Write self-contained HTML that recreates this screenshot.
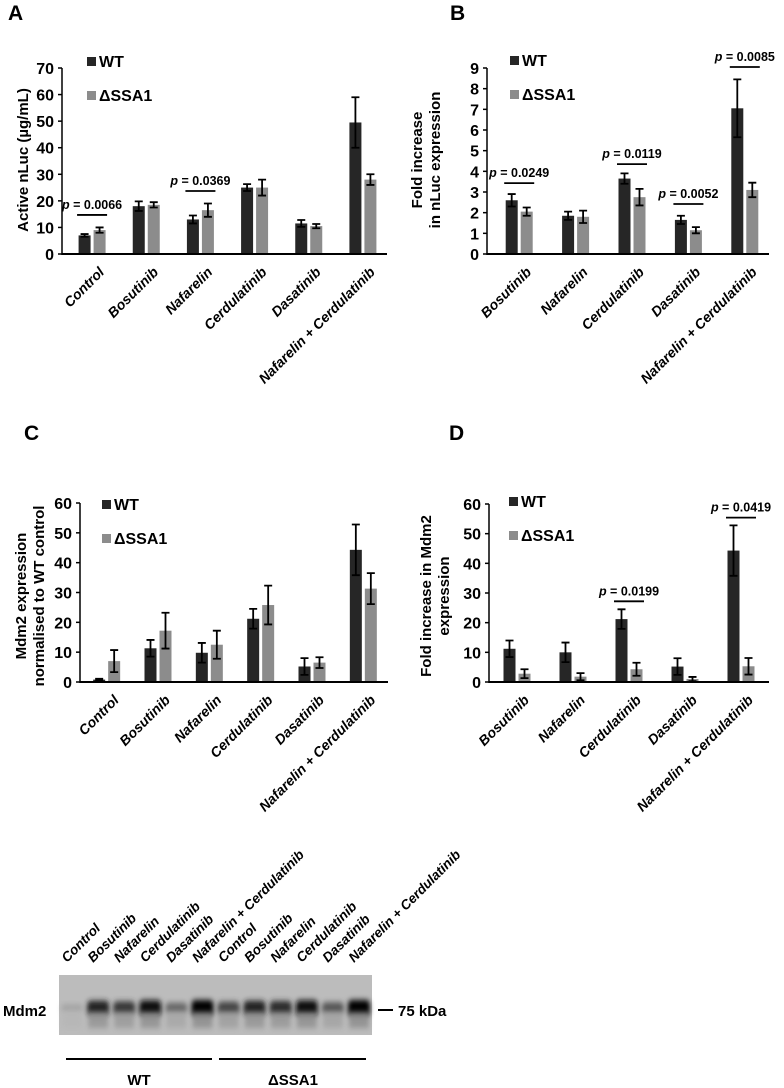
<!DOCTYPE html>
<html><head><meta charset="utf-8"><style>
html,body{margin:0;padding:0;background:#fff;}
svg{display:block;font-family:"Liberation Sans",Arial,sans-serif;}
</style></head><body>
<svg id="fig" width="784" height="1088" viewBox="0 0 784 1088">
<defs><filter id="blur" x="-50%" y="-50%" width="200%" height="200%"><feGaussianBlur stdDeviation="2.5 3"/></filter></defs>
<g id="charts"></g>
<g id="blot"></g>
</svg>
<script>
// ---- Panel A data ----
const catsA = ["Control","Bosutinib","Nafarelin","Cerdulatinib","Dasatinib","Nafarelin + Cerdulatinib"];
const wtA = [7, 18, 13, 25, 11.5, 49.5];
const wtErrA = [0.5, 1.8, 1.5, 1.3, 1.3, 9.5];
const ssaA = [9, 18.5, 16.5, 25, 10.5, 28];
const ssaErrA = [1, 1, 2.5, 3, 0.8, 2];
const ticksA = [0,10,20,30,40,50,60,70];
const pCatA = [0, 2];
const pValA = [14.7, 23.7];
const pTextA = ["0.0066","0.0369"];
// ---- Panel B data ----
const catsB = ["Bosutinib","Nafarelin","Cerdulatinib","Dasatinib","Nafarelin + Cerdulatinib"];
const wtB = [2.6, 1.85, 3.65, 1.65, 7.05];
const wtErrB = [0.3, 0.2, 0.25, 0.2, 1.4];
const ssaB = [2.05, 1.8, 2.75, 1.15, 3.1];
const ssaErrB = [0.2, 0.3, 0.4, 0.15, 0.35];
const ticksB = [0,1,2,3,4,5,6,7,8,9];
const pCatB = [0, 2, 3, 4];
const pValB = [3.43, 4.35, 2.42, 9.05];
const pTextB = ["0.0249","0.0119","0.0052","0.0085"];
// ---- Panel C data ----
const catsC = ["Control","Bosutinib","Nafarelin","Cerdulatinib","Dasatinib","Nafarelin + Cerdulatinib"];
const wtC = [0.8, 11.3, 9.8, 21.2, 5.2, 44.3];
const wtErrC = [0.3, 2.8, 3.3, 3.3, 2.8, 8.5];
const ssaC = [7, 17.2, 12.5, 25.8, 6.5, 31.3];
const ssaErrC = [3.7, 6, 4.7, 6.5, 1.8, 5.2];
const ticksC = [0,10,20,30,40,50,60];
const pCatC = [];
const pValC = [];
const pTextC = [];
// ---- Panel D data ----
const catsD = ["Bosutinib","Nafarelin","Cerdulatinib","Dasatinib","Nafarelin + Cerdulatinib"];
const wtD = [11.2, 10, 21.2, 5.2, 44.3];
const wtErrD = [2.8, 3.3, 3.3, 2.8, 8.5];
const ssaD = [2.8, 1.8, 4.3, 1, 5.3];
const ssaErrD = [1.5, 1.2, 2.2, 0.7, 2.8];
const ticksD = [0,10,20,30,40,50,60];
const pCatD = [2, 4];
const pValD = [27.2, 55.4];
const pTextD = ["0.0199","0.0419"];
// ---- Blot data ----
const laneLabels = ["Control","Bosutinib","Nafarelin","Cerdulatinib","Dasatinib","Nafarelin + Cerdulatinib","Control","Bosutinib","Nafarelin","Cerdulatinib","Dasatinib","Nafarelin + Cerdulatinib"];
const bandIntensity = [0.12, 0.85, 0.72, 0.95, 0.45, 1, 0.65, 0.85, 0.8, 0.95, 0.55, 1];

const NS = "http://www.w3.org/2000/svg";
function mk(tag, attrs, parent, text){
  const e = document.createElementNS(NS, tag);
  for (const k in attrs) e.setAttribute(k, attrs[k]);
  if (text !== undefined) e.textContent = text;
  parent.appendChild(e);
  return e;
}
const root = document.getElementById("charts");

function drawChart(o){
  const g = mk("g", {}, root);
  
  
  const ppu = o.pxTop / o.ticks[o.ticks.length-1];
  const y = v => o.y0 - v * ppu;
  const step = (o.x1 - o.x0) / o.cats.length;
  const cx = i => o.x0 + step * (i + 0.5) + o.shift;
  const L = mk("text", {x:o.letterX, y:o.letterY, "font-size":21, "font-weight":"bold"}, g, o.letter);
  
  
  o.ticks.forEach(t => {
    const tl = mk("text", {x:o.x0-8, y:y(t)+6, "font-size":16, "font-weight":"bold", "text-anchor":"end"}, g, String(t));
    
    
    mk("line", {x1:o.x0-4, x2:o.x0, y1:y(t), y2:y(t), stroke:"#000", "stroke-width":1.5}, g);
  });
  const ya = mk("line", {x1:o.x0, x2:o.x0, y1:o.y0+1, y2:y(o.ticks[o.ticks.length-1]), stroke:"#000", "stroke-width":1.5}, g);
  
  
  const tt = mk("text", {transform:`translate(${o.titleX},${o.titleY}) rotate(-90)`, "font-size":15, "font-weight":"bold", "text-anchor":"middle"}, g);
  
  
  o.title.forEach((line, i) => mk("tspan", {x:0, dy: i===0 ? 0 : 18}, tt, line));
  o.cats.forEach((c, i) => {
    [[o.wt, o.wtErr, "#262626", -7.5, "bar-wt"], [o.ssa, o.ssaErr, "#8c8c8c", 7.5, "bar-ssa1"]].forEach(s => {
      const v = s[0][i], e = s[1][i], bx = cx(i) + s[3];
      const r = mk("rect", {x:bx-6, y:y(v), width:12, height:o.y0-y(v), fill:s[2]}, g);
      
      
      const eb = mk("path", {d:`M${bx},${y(v+e)}V${y(v-e)}M${bx-4},${y(v+e)}H${bx+4}M${bx-4},${y(v-e)}H${bx+4}`, stroke:"#000", "stroke-width":1.8, fill:"none"}, g);
      
      
    });
    const lx = cx(i) + 6, ly = o.y0 + 12;
    const lab = mk("text", {transform:`translate(${lx},${ly}) rotate(-45)`, "font-size":14, "font-weight":"bold", "font-style":"italic", "text-anchor":"end", dy:"0.7em"}, g, c);
    
    
  });
  const xa = mk("line", {x1:o.x0, x2:o.x1, y1:o.y0, y2:o.y0, stroke:"#000", "stroke-width":2}, g);
  
  
  o.pCat.forEach((ci, k) => {
    const py = y(o.pVal[k]), c = cx(ci);
    const pl = mk("line", {x1:c-15, x2:c+15, y1:py, y2:py, stroke:"#000", "stroke-width":1.8}, g);
    
    
    const pt = mk("text", {x:c, y:py-6, "font-size":12.5, "font-weight":"bold", "text-anchor":"middle"}, g);
    
    
    mk("tspan", {"font-style":"italic"}, pt, "p");
    mk("tspan", {}, pt, " = " + o.pText[k]);
  });
  [["WT","#262626",o.legY], ["ΔSSA1","#8c8c8c",o.legY+34]].forEach(l => {
    const lg = mk("g", {}, g);
    
    
    mk("rect", {x:o.legX, y:l[2], width:9, height:9, fill:l[1]}, lg);
    mk("text", {x:o.legX+12, y:l[2]+10, "font-size":16, "font-weight":"bold"}, lg, l[0]);
  });
}

drawChart({name:"chart-a", letter:"A", letterX:8, letterY:20, x0:62, x1:387, y0:254, pxTop:186, shift:3,
  cats:catsA, wt:wtA, wtErr:wtErrA, ssa:ssaA, ssaErr:ssaErrA, ticks:ticksA, pCat:pCatA, pVal:pValA, pText:pTextA,
  title:["Active nLuc (µg/mL)"], titleX:28, titleY:160, legX:87, legY:57});
drawChart({name:"chart-b", letter:"B", letterX:450, letterY:20, x0:487, x1:769, y0:254, pxTop:186, shift:4,
  cats:catsB, wt:wtB, wtErr:wtErrB, ssa:ssaB, ssaErr:ssaErrB, ticks:ticksB, pCat:pCatB, pVal:pValB, pText:pTextB,
  title:["Fold increase","in nLuc expression"], titleX:422, titleY:160, legX:510, legY:56});
drawChart({name:"chart-c", letter:"C", letterX:24, letterY:440, x0:80, x1:388, y0:682, pxTop:179, shift:1,
  cats:catsC, wt:wtC, wtErr:wtErrC, ssa:ssaC, ssaErr:ssaErrC, ticks:ticksC, pCat:pCatC, pVal:pValC, pText:pTextC,
  title:["Mdm2 expression","normalised to WT control"], titleX:26, titleY:596, legX:102, legY:500});
drawChart({name:"chart-d", letter:"D", letterX:449, letterY:440, x0:489, x1:769, y0:682, pxTop:178, shift:0,
  cats:catsD, wt:wtD, wtErr:wtErrD, ssa:ssaD, ssaErr:ssaErrD, ticks:ticksD, pCat:pCatD, pVal:pValD, pText:pTextD,
  title:["Fold increase in Mdm2","expression"], titleX:431, titleY:596, legX:509, legY:497});

// ---- Blot ----
const bg = document.getElementById("blot");
const bx0 = 59, bx1 = 372, by0 = 975, by1 = 1035;
const lw = (bx1 - bx0) / laneLabels.length;
mk("rect", {x:bx0, y:by0, width:bx1-bx0, height:by1-by0, fill:"#bcbcbc"}, bg);
bandIntensity.forEach((v, i) => {
  const c = bx0 + lw * (i + 0.5);
  const shade = Math.round(185 - v * 180);
  const h = 6 + v * 10;
  const b = mk("rect", {x:c-lw*0.42, y:1008-h/2, width:lw*0.84, height:h, rx:4, fill:`rgb(${shade},${shade},${shade})`, filter:"url(#blur)"}, bg);
  
  
  const s2 = Math.round(188 - v * 50);
  mk("rect", {x:c-lw*0.38, y:1012, width:lw*0.76, height:16, fill:`rgb(${s2},${s2},${s2})`, filter:"url(#blur)", opacity:0.8}, bg);
  const t = mk("text", {transform:`translate(${c-5},${by0-12}) rotate(-45)`, "font-size":13.5, "font-weight":"bold", "font-style":"italic"}, bg, laneLabels[i]);
  
  
});
const ml = mk("text", {x:3, y:1016, "font-size":15, "font-weight":"bold"}, bg, "Mdm2");


mk("line", {x1:378, x2:393, y1:1010, y2:1010, stroke:"#000", "stroke-width":2}, bg);
const kd = mk("text", {x:398, y:1016, "font-size":15, "font-weight":"bold"}, bg, "75 kDa");


mk("line", {x1:66, x2:212, y1:1059, y2:1059, stroke:"#000", "stroke-width":2}, bg);
mk("line", {x1:219, x2:366, y1:1059, y2:1059, stroke:"#000", "stroke-width":2}, bg);
const g1 = mk("text", {x:139, y:1085, "font-size":15, "font-weight":"bold", "text-anchor":"middle"}, bg, "WT");


const g2 = mk("text", {x:293, y:1085, "font-size":15, "font-weight":"bold", "text-anchor":"middle"}, bg, "ΔSSA1");


</script>
</body></html>
